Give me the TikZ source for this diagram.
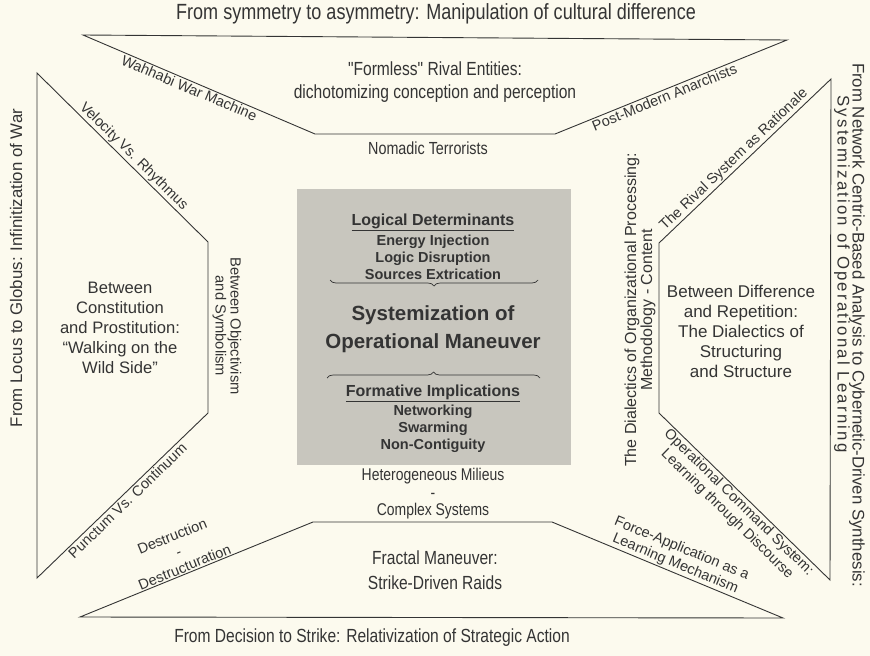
\documentclass[tikz,border=0pt]{standalone}
\usepackage{fontspec}
\setmainfont{Liberation Sans}
\newfontfamily\narrowfont[FakeStretch=0.82]{Liberation Sans}
\newfontfamily\widefont[LetterSpace=13]{Liberation Sans}
\usetikzlibrary{decorations.pathreplacing}

\definecolor{paper}{RGB}{252,250,238}
\definecolor{boxgray}{RGB}{200,198,190}
\definecolor{ink}{RGB}{52,52,52}

\tikzset{
  outline/.style={draw=ink, line width=0.9bp},
  sidelbl/.style={text=ink, font=\fontsize{14.5bp}{16.5bp}\selectfont, align=center, inner sep=1.5bp},
  thinlbl/.style={text=ink, font=\narrowfont\fontsize{17.5bp}{19bp}\selectfont, align=center, inner sep=1.5bp},
  titlelbl/.style={text=ink, font=\narrowfont\fontsize{19bp}{23bp}\selectfont, align=center},
  zonelbl/.style={text=ink, font=\fontsize{16.6bp}{20bp}\selectfont, align=center},
  framelbl/.style={text=ink, font=\fontsize{16.8bp}{15.5bp}\selectfont, align=center},
  corehead/.style={text=ink, font=\bfseries\fontsize{16bp}{18bp}\selectfont, inner sep=0pt},
  coreitem/.style={text=ink, font=\bfseries\fontsize{14.5bp}{17bp}\selectfont, align=center, inner sep=0pt},
  coremain/.style={text=ink, font=\bfseries\fontsize{20.5bp}{28bp}\selectfont, align=center, inner sep=0pt},
  coilbrace/.style={draw=ink, line width=0.7bp, decorate, decoration={brace, amplitude=6bp}},
}

\begin{document}
\begin{tikzpicture}[x=1bp,y=-1bp]
  \fill[paper] (0,0) rectangle (870,656);
  \useasboundingbox (0,0) rectangle (870,656);

  % corners of the four frames
  \coordinate (t1) at (83,35);   \coordinate (t2) at (787,40);
  \coordinate (t3) at (555,134); \coordinate (t4) at (315,134);
  \coordinate (l1) at (37,73);   \coordinate (l2) at (208,242);
  \coordinate (l3) at (208,413); \coordinate (l4) at (37,578);
  \coordinate (r1) at (831,79);  \coordinate (r2) at (659,243);
  \coordinate (r3) at (659,413); \coordinate (r4) at (830,580);
  \coordinate (b1) at (313,522); \coordinate (b2) at (552,522);
  \coordinate (b3) at (783,618); \coordinate (b4) at (80,617);

  \draw[outline] (t1)--(t2)--(t3)--(t4)--cycle;
  \draw[outline] (l1)--(l2)--(l3)--(l4)--cycle;
  \draw[outline] (r1)--(r2)--(r3)--(r4)--cycle;
  \draw[outline] (b1)--(b2)--(b3)--(b4)--cycle;

  % frame titles
  \node[titlelbl, font=\narrowfont\fontsize{22bp}{24bp}\selectfont] (toptitle) at (436,14) {From symmetry to asymmetry: Manipulation of cultural difference};
  \node[titlelbl] (bottitle) at (372,638) {From Decision to Strike: Relativization of Strategic Action};
  \node[framelbl, rotate=90] (lefttitle) at (16,268) {From Locus to Globus: Infinitization of War};
  \node[framelbl, rotate=-90] (righttitle) at (857,325) {From Network Centric-Based Analysis to Cybernetic-Driven Synthesis:};
  \node[framelbl, rotate=-90] (righttitleb) at (842,274) {\widefont Systemization of Operational Learning};

  % top frame
  \node[titlelbl] (formless) at (435,82) {"Formless" Rival Entities:\\dichotomizing conception and perception};
  \path (t1) -- node[sidelbl, sloped, below, pos=0.47] (wahhabi) {Wahhabi War Machine} (t4);
  \path (t3) -- node[sidelbl, sloped, below, pos=0.46] (postmod) {Post-Modern Anarchists} (t2);
  \node[thinlbl] (nomadic) at (428,148) {Nomadic Terrorists};

  % left frame
  \node[zonelbl] (constit) at (120,328) {Between\\Constitution\\and Prostitution:\\“Walking on the\\Wild Side”};
  \path (l1) -- node[sidelbl, sloped, above, pos=0.53] (velocity) {Velocity Vs. Rhythmus} (l2);
  \path (l4) -- node[sidelbl, sloped, below, pos=0.5] (punctum) {Punctum Vs. Continuum} (l3);
  \node[sidelbl, rotate=-90, font=\fontsize{14.7bp}{15bp}\selectfont] (objsym) at (227,326) {Between Objectivism\\and Symbolism};

  % right frame
  \node[zonelbl, font=\fontsize{17bp}{20bp}\selectfont] (differ) at (741,331) {Between Difference\\and Repetition:\\The Dialectics of\\Structuring\\and Structure};
  \path (r2) -- node[sidelbl, sloped, above, pos=0.47] (rival) {The Rival System as Rationale} (r1);
  \path (r3) -- node[sidelbl, sloped, below, pos=0.5] (opcmd) {Operational Command System:\\Learning through Discourse} (r4);
  \node[sidelbl, rotate=90, font=\fontsize{16bp}{16bp}\selectfont] (dialect) at (640,310) {The Dialectics of Organizational Processing:\\Methodology - Content};

  % core
  \fill[boxgray] (297,189) rectangle (571,465);
  \node[corehead] (logdet) at (433,222) {\underline{Logical Determinants}};
  \node[coreitem] (logitems) at (433,257) {Energy Injection\\Logic Disruption\\Sources Extrication};
  \draw[coilbrace, decoration={mirror}] (330,280) -- (538,280);
  \node[coremain] (sysman) at (433,329) {Systemization of\\Operational Maneuver};
  \draw[coilbrace] (327,378) -- (540,378);
  \node[corehead] (formimp) at (433,393) {\underline{Formative Implications}};
  \node[coreitem] (formitems) at (433,429) {Networking\\Swarming\\Non-Contiguity};

  % bottom frame
  \node[thinlbl, font=\narrowfont\fontsize{17bp}{17.5bp}\selectfont] (hetero) at (433,494) {Heterogeneous Milieus\\-\\Complex Systems};
  \node[titlelbl, font=\narrowfont\fontsize{19bp}{25bp}\selectfont] (fractal) at (435,570) {Fractal Maneuver:\\Strike-Driven Raids};
  \path (b4) -- node[sidelbl, sloped, above, pos=0.46] (destruct) {Destruction\\-\\Destructuration} (b1);
  \path (b2) -- node[sidelbl, sloped, above, pos=0.52] (force) {Force-Application as a\\Learning Mechanism} (b3);
\end{tikzpicture}
\end{document}
